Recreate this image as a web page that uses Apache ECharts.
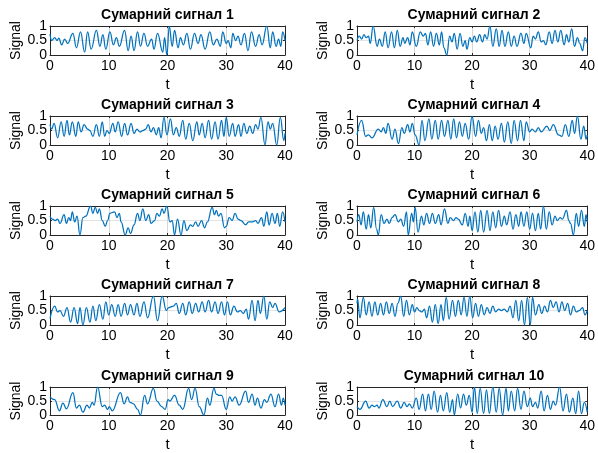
<!DOCTYPE html>
<html>
<head>
<meta charset="utf-8">
<script src="https://cdn.jsdelivr.net/npm/echarts@6/dist/echarts.min.js"></script>
<style>
html, body { margin: 0; padding: 0; background: #ffffff; }
#chart { width: 598px; height: 453px; }
</style>
</head>
<body>
<div id="chart"></div>
<script>
// Subplot titles
const titles = [
  'Сумарний сигнал 1', 'Сумарний сигнал 2', 'Сумарний сигнал 3', 'Сумарний сигнал 4',
  'Сумарний сигнал 5', 'Сумарний сигнал 6', 'Сумарний сигнал 7', 'Сумарний сигнал 8',
  'Сумарний сигнал 9', 'Сумарний сигнал 10'
];
const xName = 't';
const yName = 'Signal';
const tRange = [0, 40];
const tStep = 10;
const vRange = [0, 1];
const vStep = 0.5;

// Summed signals: [t, value] samples at the turning points of each trace
const signal1 = [[0,0.72],[0.3,0.5],[0.8,0.6],[1.2,0.5],[1.5,0.58],[2,0.35],[2.5,0.55],[3,0.4],[3.9,0.75],[4.5,0.25],[5.2,0.8],[5.9,0.1],[6.4,0.8],[7,0.2],[7.9,0.85],[8.5,0.3],[9,0.7],[9.5,0.2],[10.2,0.8],[10.8,0.35],[11.3,0.6],[11.8,0.3],[12.7,0.85],[13.3,0.15],[13.8,0.65],[14.3,0.15],[14.9,0.8],[15.4,0.3],[16,0.75],[16.6,0.3],[17.3,0.55],[17.7,0.2],[18.3,0.75],[19.2,0.1],[19.5,0.6],[19.9,0.0],[20.3,1.0],[20.8,0.3],[21.2,0.85],[21.8,0.25],[22.2,0.6],[22.7,0.35],[23.3,0.75],[23.9,0.2],[24.6,0.75],[25.2,0.4],[25.7,0.7],[26.4,0.2],[27.2,0.8],[27.8,0.35],[28.4,0.55],[29,0.3],[29.4,0.8],[30,0.4],[30.3,0.5],[30.8,0.25],[31.1,0.75],[31.6,0.5],[32,0.65],[32.5,0.35],[33.1,0.75],[33.7,0.15],[34.3,0.8],[35,0.3],[35.6,0.7],[36.1,0.35],[36.9,1.0],[37.5,0.25],[37.9,0.8],[38.5,0.3],[38.9,0.55],[39.3,0.3],[39.6,0.8],[40,0.5]];
const signal2 = [[0,0.5],[0.4,0.65],[0.8,0.55],[1.2,0.7],[1.6,0.6],[2,0.65],[2.3,0.4],[2.8,1.0],[3.5,0.3],[3.9,0.55],[4.4,0.3],[4.9,0.8],[5.4,0.25],[6,0.8],[6.5,0.25],[7,0.85],[7.5,0.3],[8,0.6],[8.3,0.4],[8.8,0.6],[9.2,0.35],[9.6,0.8],[10.3,0.3],[11,0.8],[11.5,0.65],[11.9,0.75],[12.3,0.35],[12.8,0.8],[13.3,0.3],[13.8,0.75],[14.3,0.35],[14.7,0.8],[15.1,0.25],[15.6,0.0],[16.1,0.65],[16.5,0.45],[16.9,0.75],[17.4,0.2],[17.9,0.75],[18.4,0.3],[18.8,0.5],[19.1,0.2],[19.6,0.6],[20,0.45],[20.4,0.65],[20.8,0.45],[21.3,0.7],[21.8,0.45],[22.2,0.7],[22.6,0.55],[23.1,1.0],[23.6,0.3],[24.2,0.9],[24.7,0.3],[25.2,0.85],[25.7,0.3],[26.3,0.8],[26.8,0.3],[27.3,0.65],[27.8,0.3],[28.5,0.75],[29,0.4],[29.4,0.75],[30.2,0.25],[30.6,0.65],[31,0.55],[31.5,0.8],[32,0.45],[32.4,0.5],[32.8,0.35],[33.4,0.8],[33.9,0.4],[34.4,0.85],[34.9,0.45],[35.4,0.85],[36,0.35],[36.4,0.7],[36.8,0.45],[37.3,0.9],[37.8,0.3],[38.3,0.6],[38.7,0.4],[39.2,0.15],[39.6,0.6],[40,0.4]];
const signal3 = [[0,0.7],[0.3,0.55],[0.7,0.75],[1.3,0.25],[1.9,0.8],[2.4,0.3],[2.9,0.85],[3.3,0.35],[3.8,0.8],[4.4,0.3],[4.8,0.8],[5.3,0.45],[5.8,0.7],[6.4,0.55],[6.8,0.5],[7.3,0.3],[7.9,0.7],[8.4,0.3],[8.9,0.8],[9.3,0.3],[9.7,0.5],[10.1,0.4],[10.7,0.75],[11.1,0.45],[11.6,0.8],[12.2,0.3],[12.7,0.75],[13.2,0.35],[13.8,0.75],[14.3,0.4],[14.8,0.55],[15.3,0.45],[15.8,0.5],[16.3,0.55],[16.7,0.7],[17.2,0.45],[17.6,0.6],[18.1,0.35],[18.5,0.6],[18.9,0.25],[19.4,0.95],[19.9,0.35],[20.5,0.9],[21,0.35],[21.5,0.6],[22,0.3],[22.6,0.85],[23.1,0.2],[23.7,0.75],[24.3,0.15],[25,0.8],[25.4,0.35],[25.9,0.75],[26.4,0.25],[27,0.85],[27.5,0.2],[28.1,0.8],[28.6,0.2],[29.2,0.85],[29.6,0.3],[30,0.95],[30.5,0.3],[31.1,0.75],[31.5,0.3],[32.1,0.7],[32.5,0.3],[33,0.75],[33.5,0.4],[34,0.65],[34.5,0.4],[35,0.7],[35.4,0.55],[35.9,0.95],[36.6,0.0],[37.1,0.8],[37.5,0.55],[37.9,0.75],[38.6,0.0],[39.2,0.95],[39.8,0.15],[40,0.4]];
const signal4 = [[0,0.35],[0.8,0.85],[1.5,0.3],[2,0.35],[2.6,0.25],[3.7,0.55],[4.2,0.45],[4.6,0.6],[5,0.4],[5.4,0.75],[6.1,0.2],[6.6,0.55],[7.2,0.05],[7.8,0.6],[8.2,0.4],[8.8,0.7],[9.2,0.45],[9.6,0.75],[10.1,0.35],[10.8,0.0],[11.3,0.85],[11.8,0.15],[12.5,0.9],[13,0.2],[13.6,0.85],[14.1,0.2],[14.7,0.85],[15.2,0.3],[15.8,0.85],[16.3,0.2],[16.8,0.9],[17.3,0.25],[17.8,0.8],[18.3,0.3],[18.8,0.75],[19.4,0.2],[20,1.0],[20.6,0.3],[21.1,0.85],[21.6,0.4],[22,0.6],[22.5,0.15],[23,0.7],[23.5,0.15],[24,0.65],[24.5,0.2],[25.1,0.75],[25.6,0.1],[26.2,0.8],[26.8,0.05],[27.3,0.85],[27.9,0.15],[28.4,0.85],[29,0.15],[29.4,0.8],[30,0.45],[30.4,0.55],[31,0.45],[31.5,0.6],[32,0.45],[33,0.65],[33.5,0.5],[34.1,0.7],[35,0.35],[35.6,0.3],[36.2,0.7],[36.8,0.3],[37.4,0.85],[37.8,0.4],[38.3,1.0],[38.9,0.2],[39.4,0.65],[39.8,0.2],[40,0.35]];
const signal5 = [[0,0.65],[0.4,0.55],[0.9,0.5],[1.3,0.55],[1.7,0.4],[2.4,0.7],[2.8,0.4],[3.2,0.6],[3.5,0.5],[3.8,0.8],[4.2,0.45],[4.6,0.65],[5.1,0.0],[5.6,0.6],[6.1,0.65],[6.9,1.0],[7.3,0.75],[7.7,0.95],[8.1,0.75],[8.4,0.9],[8.9,0.5],[9.4,0.3],[9.8,0.5],[10.2,0.75],[11,0.8],[11.4,0.6],[11.8,0.75],[12.1,0.45],[12.8,0.0],[13.3,0.25],[13.7,0.05],[14.3,0.35],[14.9,0.75],[15.3,0.5],[15.8,0.9],[16.3,0.5],[16.8,0.7],[17.2,0.4],[17.8,0.5],[18.2,0.75],[18.6,0.65],[19.1,0.9],[19.4,0.75],[19.9,1.0],[20.4,0.45],[20.8,0.5],[21.2,0.0],[21.7,0.55],[22.3,0.0],[22.8,0.5],[23.3,0.15],[23.9,0.35],[24.3,0.3],[24.8,0.45],[25.2,0.3],[25.8,0.5],[26.3,0.25],[26.8,0.45],[27.6,0.95],[28,0.7],[28.3,0.85],[28.7,0.65],[29.1,0.75],[29.7,0.25],[30,0.3],[30.5,0.6],[31,0.5],[31.5,0.75],[32,0.55],[32.5,0.5],[33.3,0.35],[33.8,0.45],[34.4,0.45],[35,0.5],[35.4,0.4],[36,0.6],[36.4,0.3],[36.9,0.8],[37.3,0.35],[37.8,0.75],[38.3,0.4],[38.7,0.75],[39.1,0.3],[39.6,0.8],[40,0.45]];
const signal6 = [[0,0.45],[0.3,0.7],[0.7,0.35],[1.1,0.8],[1.6,0.2],[2,0.7],[2.4,0.25],[2.9,0.95],[3.4,0.2],[3.7,0.0],[4.2,0.7],[4.7,0.4],[5.2,0.55],[5.6,0.4],[6.1,0.6],[6.6,0.7],[7.2,0.45],[7.6,0.55],[8.1,0.3],[8.6,0.8],[8.9,0.0],[9.5,0.75],[9.8,0.45],[10.1,0.95],[10.6,0.1],[11.2,0.65],[11.6,0.35],[12.1,0.75],[12.6,0.4],[13.1,0.75],[13.6,0.4],[14.2,0.7],[14.6,0.35],[15.2,0.9],[15.8,0.4],[16.2,0.6],[16.8,0.5],[17.2,0.6],[17.6,0.55],[18.3,0.35],[18.8,0.75],[19.3,0.3],[19.6,0.65],[20,0.15],[20.5,0.8],[21,0.1],[21.5,0.85],[22,0.1],[22.6,0.85],[23.1,0.15],[23.6,0.8],[24.1,0.25],[24.6,0.85],[25.1,0.3],[25.6,0.65],[26,0.35],[26.6,0.8],[27.1,0.2],[27.6,0.7],[28.1,0.3],[28.5,0.8],[29,0.3],[29.5,0.8],[30,0.2],[30.5,0.75],[31,0.15],[31.5,0.75],[31.9,0.2],[32.4,1.0],[32.9,0.2],[33.4,0.8],[33.9,0.35],[34.4,0.65],[34.8,0.5],[35.3,0.6],[35.7,0.55],[36.4,0.85],[36.8,0.5],[37.1,0.4],[37.6,0.0],[38.1,0.75],[38.5,0.3],[39,0.85],[39.5,0.3],[39.8,0.7],[40,0.45]];
const signal7 = [[0,0.22],[0.8,0.65],[1.3,0.45],[1.7,0.5],[2.3,0.3],[2.9,0.6],[3.5,0.1],[4.1,0.6],[4.7,0.05],[5.1,0.6],[5.6,0.0],[6.2,0.6],[6.8,0.1],[7.3,0.65],[7.8,0.15],[8.4,0.7],[9,0.2],[9.5,0.8],[10,0.35],[10.5,0.7],[11.1,0.3],[11.6,0.7],[12.1,0.3],[12.7,0.75],[13.2,0.35],[13.7,0.7],[14.3,0.35],[14.8,0.75],[15.3,0.3],[16,0.8],[16.6,0.25],[17.6,1.0],[18.3,0.15],[19.1,1.0],[19.8,0.5],[20.2,0.6],[21,0.65],[21.5,0.75],[22,0.4],[22.6,0.75],[23.1,0.35],[23.7,0.8],[24.2,0.4],[24.8,0.75],[25.3,0.45],[25.9,0.8],[26.4,0.45],[27,0.85],[27.5,0.45],[28.1,0.8],[28.6,0.4],[29.2,0.8],[29.7,0.35],[30.2,0.8],[30.7,0.35],[31.3,0.65],[31.9,0.45],[32.4,0.5],[32.9,0.4],[33.4,0.55],[33.8,0.2],[34.4,0.85],[34.9,0.15],[35.4,0.85],[35.8,0.4],[36.4,1.0],[36.9,0.2],[37.4,0.8],[37.9,0.6],[38.3,0.75],[39,0.45],[40,0.6]];
const signal8 = [[0,0.75],[0.1,0.9],[0.5,0.25],[1.1,0.95],[1.6,0.35],[2.1,0.8],[2.6,0.3],[3.1,0.8],[3.6,0.35],[4.1,0.75],[4.6,0.35],[5.1,0.8],[5.6,0.4],[6.1,0.75],[6.6,0.3],[7.1,0.75],[7.6,1.0],[8.1,0.3],[8.6,0.85],[9.1,0.35],[9.6,0.7],[10,0.45],[10.4,0.6],[10.8,0.5],[11.3,0.45],[11.7,0.55],[12.1,0.25],[12.6,0.65],[13.1,0.1],[13.6,0.7],[14.1,0.05],[14.6,0.7],[15,0.15],[15.5,0.95],[16,0.2],[16.6,0.85],[17.1,0.3],[17.6,0.85],[18.1,0.35],[18.6,0.95],[19.1,0.3],[19.6,1.0],[20.1,0.25],[20.6,0.75],[21.1,0.3],[21.6,0.7],[22.1,0.35],[22.6,0.6],[23.1,0.4],[23.6,0.65],[24.1,0.45],[24.6,0.55],[25.1,0.5],[25.6,0.55],[26.1,0.45],[26.6,0.65],[27.1,0.25],[27.6,0.85],[28.1,0.15],[28.6,0.85],[29.1,0.0],[29.6,0.95],[30.1,0.0],[30.5,0.95],[31,0.35],[31.6,0.7],[32.1,0.4],[32.6,0.65],[33.1,0.45],[33.6,0.85],[34.1,0.6],[34.6,0.8],[35.1,0.45],[35.6,0.8],[36.1,0.5],[36.6,0.75],[37.1,0.35],[37.6,0.65],[38.1,0.45],[38.6,0.5],[39.2,0.6],[39.6,0.35],[40,0.5]];
const signal9 = [[0,0.65],[0.8,0.55],[1.6,0.15],[2.2,0.42],[2.8,0.22],[3.9,0.8],[4.5,0.25],[5,0.35],[5.6,0.1],[6.3,0.35],[6.7,0.25],[7.2,0.45],[7.5,0.35],[8.1,1.0],[8.9,0.3],[9.3,0.35],[9.8,0.2],[10.1,0.3],[10.6,0.15],[12,0.8],[12.6,0.4],[13.2,0.65],[13.6,0.45],[14.2,0.4],[14.9,0.2],[15.4,0.0],[16.1,0.7],[16.6,0.4],[17.6,0.95],[18.2,0.5],[19,0.3],[19.6,0.2],[20.1,0.55],[20.4,0.5],[21.2,0.7],[22,0.35],[22.6,0.2],[23.6,0.95],[24.1,0.55],[24.7,0.95],[25.4,0.3],[26.2,0.0],[26.8,0.6],[27.2,0.35],[27.9,0.95],[28.3,0.75],[28.8,0.7],[29.2,0.7],[30,0.2],[30.6,0.65],[31,0.5],[31.5,0.65],[32.2,0.35],[33.3,0.85],[33.8,0.45],[34.4,0.75],[34.9,0.35],[35.3,0.6],[35.9,0.25],[36.5,0.55],[36.9,0.45],[37.6,0.75],[38.3,0.3],[38.9,0.75],[39.4,0.35],[39.7,0.6],[40,0.35]];
const signal10 = [[0,0.3],[0.5,0.2],[1.5,0.5],[2.1,0.25],[2.6,0.35],[3,0.3],[3.5,0.35],[3.8,0.25],[4.5,0.55],[5.2,0.3],[5.7,0.5],[6.2,0.3],[7,0.5],[7.6,0.25],[8.2,0.45],[8.7,0.3],[9.1,0.4],[9.6,0.25],[10.3,0.6],[10.8,0.2],[11.4,0.75],[11.9,0.15],[12.4,0.75],[12.9,0.2],[13.4,0.85],[14,0.1],[14.5,0.7],[15,0.15],[15.6,0.8],[16.1,0.1],[16.6,0.55],[16.9,0.0],[17.5,0.75],[18,0.25],[18.5,0.75],[19,0.35],[19.5,0.7],[20,0.1],[20.4,1.0],[20.9,0.05],[21.4,0.95],[22,0.05],[22.5,0.9],[23,0.05],[23.6,1.0],[24.2,0.1],[24.7,0.95],[25.3,0.0],[25.9,0.95],[26.3,0.15],[26.8,0.85],[27.4,0.15],[27.9,0.95],[28.5,0.2],[29,0.85],[29.6,0.3],[30.1,0.6],[30.5,0.3],[31,0.45],[31.4,0.25],[32,0.85],[32.5,0.15],[33.1,0.7],[33.6,0.2],[34.1,0.5],[34.5,0.35],[35.2,1.0],[35.8,0.15],[36.4,0.75],[36.9,0.1],[37.5,0.6],[38,0.05],[38.5,0.85],[39,0.05],[39.5,0.45],[40,0.1]];

const signals = [signal1, signal2, signal3, signal4, signal5, signal6, signal7, signal8, signal9, signal10];

// Subplot layout (pixels): two columns, five rows
const colLeft = [50, 357];
const colWidth = [235, 234];
const rowTop = [26, 116, 206, 296, 387];
const plotHeight = 29;

const FONT = "'Liberation Sans', Arial, Helvetica, sans-serif";
const AXIS_COLOR = '#262626';
const LINE_COLOR = '#0072BD';

const grids = [], xAxes = [], yAxes = [], series = [], titleTexts = [];

signals.forEach((data, i) => {
  const col = i % 2, row = Math.floor(i / 2);
  const left = colLeft[col], width = colWidth[col], top = rowTop[row];
  grids.push({ left: left, top: top, width: width, height: plotHeight, containLabel: false });

  // bold title centred over each subplot
  titleTexts.push({
    type: 'text',
    x: left + width / 2,
    y: top - 11,
    style: {
      text: titles[i],
      align: 'center',
      verticalAlign: 'middle',
      fontFamily: FONT,
      fontSize: 14,
      fontWeight: 'bold',
      fill: '#000'
    }
  });

  // bottom x axis with labels and grid lines
  xAxes.push({
    type: 'value', gridIndex: i, min: tRange[0], max: tRange[1], interval: tStep,
    position: 'bottom',
    name: xName, nameLocation: 'middle', nameGap: 22,
    nameTextStyle: { fontFamily: FONT, fontSize: 15, color: '#000' },
    axisLine: { show: true, onZero: false, lineStyle: { color: AXIS_COLOR, width: 1 } },
    axisTick: { show: true, inside: true, length: 2, lineStyle: { color: AXIS_COLOR } },
    axisLabel: { fontFamily: FONT, fontSize: 14, color: '#000', margin: 4, showMinLabel: true, showMaxLabel: true },
    splitLine: { show: true, lineStyle: { color: '#d6d6d6', width: 1 } }
  });
  // top x axis: frame and ticks only
  xAxes.push({
    type: 'value', gridIndex: i, min: tRange[0], max: tRange[1], interval: tStep,
    position: 'top',
    axisLine: { show: true, onZero: false, lineStyle: { color: AXIS_COLOR, width: 1 } },
    axisTick: { show: true, inside: true, length: 2, lineStyle: { color: AXIS_COLOR } },
    axisLabel: { show: false },
    splitLine: { show: false }
  });
  // left y axis with labels
  yAxes.push({
    type: 'value', gridIndex: i, min: vRange[0], max: vRange[1], interval: vStep,
    position: 'left',
    name: yName, nameLocation: 'middle', nameGap: 23,
    nameTextStyle: { fontFamily: FONT, fontSize: 14, color: '#000' },
    axisLine: { show: true, onZero: false, lineStyle: { color: AXIS_COLOR, width: 1 } },
    axisTick: { show: true, inside: true, length: 2, lineStyle: { color: AXIS_COLOR } },
    axisLabel: { fontFamily: FONT, fontSize: 14, color: '#000', margin: 3 },
    splitLine: { show: true, lineStyle: { color: '#e3e3e3', width: 1 } }
  });
  // right y axis: frame and ticks only
  yAxes.push({
    type: 'value', gridIndex: i, min: vRange[0], max: vRange[1], interval: vStep,
    position: 'right',
    axisLine: { show: true, onZero: false, lineStyle: { color: AXIS_COLOR, width: 1 } },
    axisTick: { show: true, inside: true, length: 2, lineStyle: { color: AXIS_COLOR } },
    axisLabel: { show: false },
    splitLine: { show: false }
  });

  series.push({
    type: 'line',
    xAxisIndex: 2 * i,
    yAxisIndex: 2 * i,
    data: data,
    smooth: 0.45,
    smoothMonotone: 'x',
    showSymbol: false,
    symbol: 'none',
    lineStyle: { color: LINE_COLOR, width: 1.25 },
    clip: true,
    animation: false
  });
});

const chart = echarts.init(document.getElementById('chart'), null, { renderer: 'canvas' });
chart.setOption({
  backgroundColor: '#ffffff',
  animation: false,
  graphic: titleTexts,
  grid: grids,
  xAxis: xAxes,
  yAxis: yAxes,
  series: series
});
</script>
</body>
</html>
